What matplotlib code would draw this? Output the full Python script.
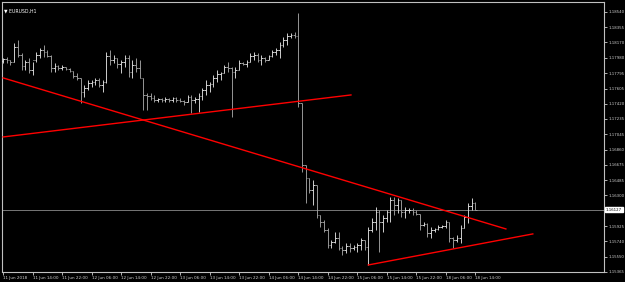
import matplotlib
matplotlib.use("Agg")
import matplotlib.pyplot as plt
from matplotlib.collections import LineCollection
from matplotlib.transforms import blended_transform_factory

# EURUSD H1 bars, 11 Jun 2018 06:00 .. 18 Jun 2018 14:00
opens = [1.17942, 1.17967, 1.17954, 1.17930, 1.18113, 1.18015, 1.17881, 1.17930, 1.17832, 1.17954,
         1.18015, 1.18077, 1.18052, 1.18003, 1.17857, 1.17881, 1.17857, 1.17869, 1.17845, 1.17820,
         1.17759, 1.17735, 1.17564, 1.17613, 1.17674, 1.17686, 1.17710, 1.17649, 1.17686, 1.18003,
         1.17954, 1.17979, 1.17906, 1.17930, 1.17979, 1.17808, 1.17893, 1.17857, 1.17735, 1.17527,
         1.17515, 1.17490, 1.17466, 1.17478, 1.17466, 1.17478, 1.17466, 1.17490, 1.17466, 1.17454,
         1.17442, 1.17503, 1.17466, 1.17478, 1.17515, 1.17588, 1.17649, 1.17661, 1.17735, 1.17784,
         1.17796, 1.17869, 1.17857, 1.17808, 1.17832, 1.17918, 1.17906, 1.17930, 1.18003, 1.18015,
         1.17954, 1.17979, 1.17954, 1.18003, 1.18052, 1.18077, 1.18138, 1.18199, 1.18247, 1.18260,
         1.18247, 1.17429, 1.16672, 1.16514, 1.16367, 1.16428, 1.16062, 1.15976, 1.15879, 1.15696,
         1.15732, 1.15781, 1.15659, 1.15635, 1.15683, 1.15659, 1.15671, 1.15696, 1.15757, 1.15671,
         1.15879, 1.15976, 1.16099, 1.15976, 1.16025, 1.16099, 1.16245, 1.16184, 1.16245, 1.16099,
         1.16123, 1.16123, 1.16099, 1.16074, 1.15940, 1.15952, 1.15842, 1.15879, 1.15891, 1.15915,
         1.15928, 1.15976, 1.15781, 1.15757, 1.15781, 1.15903, 1.16037, 1.16172, 1.16208]
highs = [1.17979, 1.17991, 1.17954, 1.18162, 1.18199, 1.18040, 1.17954, 1.17979, 1.17930, 1.18052,
         1.18101, 1.18138, 1.18077, 1.18015, 1.17918, 1.17893, 1.17893, 1.17869, 1.17857, 1.17820,
         1.17796, 1.17735, 1.17649, 1.17710, 1.17710, 1.17735, 1.17735, 1.17710, 1.18052, 1.18077,
         1.18015, 1.17979, 1.17954, 1.18015, 1.18015, 1.17954, 1.17979, 1.17954, 1.17735, 1.17552,
         1.17552, 1.17527, 1.17490, 1.17490, 1.17503, 1.17490, 1.17503, 1.17503, 1.17490, 1.17466,
         1.17527, 1.17527, 1.17503, 1.17552, 1.17613, 1.17710, 1.17686, 1.17771, 1.17832, 1.17808,
         1.17893, 1.17930, 1.17869, 1.17869, 1.17954, 1.17930, 1.17954, 1.18040, 1.18052, 1.18040,
         1.18015, 1.17991, 1.18015, 1.18077, 1.18101, 1.18174, 1.18235, 1.18284, 1.18284, 1.18296,
         1.18528, 1.17429, 1.16672, 1.16514, 1.16489, 1.16428, 1.16062, 1.16001, 1.15903, 1.15757,
         1.15854, 1.15854, 1.15683, 1.15720, 1.15720, 1.15696, 1.15720, 1.15781, 1.15757, 1.15915,
         1.16025, 1.16160, 1.16123, 1.16062, 1.16123, 1.16282, 1.16282, 1.16269, 1.16245, 1.16160,
         1.16147, 1.16147, 1.16123, 1.16074, 1.15976, 1.15964, 1.15915, 1.15903, 1.15940, 1.15940,
         1.16001, 1.15976, 1.15793, 1.15818, 1.15940, 1.16062, 1.16208, 1.16269, 1.16221]
lows = [1.17918, 1.17918, 1.17893, 1.17930, 1.17991, 1.17832, 1.17832, 1.17796, 1.17771, 1.17930,
        1.17979, 1.17991, 1.17991, 1.17808, 1.17808, 1.17832, 1.17832, 1.17832, 1.17808, 1.17735,
        1.17710, 1.17429, 1.17503, 1.17588, 1.17625, 1.17649, 1.17625, 1.17564, 1.17674, 1.17893,
        1.17918, 1.17857, 1.17796, 1.17869, 1.17747, 1.17735, 1.17808, 1.17735, 1.17344, 1.17344,
        1.17466, 1.17442, 1.17442, 1.17442, 1.17442, 1.17442, 1.17442, 1.17442, 1.17442, 1.17405,
        1.17442, 1.17307, 1.17429, 1.17320, 1.17466, 1.17527, 1.17564, 1.17625, 1.17686, 1.17710,
        1.17796, 1.17808, 1.17258, 1.17735, 1.17832, 1.17893, 1.17869, 1.17930, 1.17954, 1.17930,
        1.17893, 1.17930, 1.17954, 1.17991, 1.18015, 1.17979, 1.18113, 1.18138, 1.18223, 1.18223,
        1.17381, 1.16587, 1.16208, 1.16331, 1.16184, 1.16025, 1.15915, 1.15854, 1.15659, 1.15659,
        1.15720, 1.15635, 1.15573, 1.15598, 1.15610, 1.15635, 1.15610, 1.15635, 1.15635, 1.15451,
        1.15854, 1.15879, 1.15610, 1.15854, 1.15976, 1.15976, 1.16062, 1.16086, 1.16037, 1.16025,
        1.16086, 1.16062, 1.16062, 1.15879, 1.15928, 1.15793, 1.15781, 1.15854, 1.15879, 1.15903,
        1.15903, 1.15732, 1.15659, 1.15732, 1.15720, 1.15903, 1.15964, 1.16123, 1.16123]
closes = [1.17967, 1.17954, 1.17930, 1.18113, 1.18015, 1.17881, 1.17930, 1.17832, 1.17954, 1.18015,
          1.18077, 1.18052, 1.18003, 1.17857, 1.17881, 1.17857, 1.17869, 1.17845, 1.17820, 1.17759,
          1.17735, 1.17564, 1.17613, 1.17674, 1.17686, 1.17710, 1.17649, 1.17686, 1.18003, 1.17954,
          1.17979, 1.17906, 1.17930, 1.17979, 1.17808, 1.17893, 1.17857, 1.17735, 1.17527, 1.17515,
          1.17490, 1.17466, 1.17478, 1.17466, 1.17478, 1.17466, 1.17490, 1.17466, 1.17454, 1.17442,
          1.17503, 1.17466, 1.17478, 1.17515, 1.17588, 1.17649, 1.17661, 1.17735, 1.17784, 1.17796,
          1.17869, 1.17857, 1.17808, 1.17832, 1.17918, 1.17906, 1.17930, 1.18003, 1.18015, 1.17954,
          1.17979, 1.17954, 1.18003, 1.18052, 1.18077, 1.18138, 1.18199, 1.18247, 1.18260, 1.18247,
          1.17429, 1.16672, 1.16514, 1.16367, 1.16428, 1.16062, 1.15976, 1.15879, 1.15696, 1.15732,
          1.15781, 1.15659, 1.15635, 1.15683, 1.15659, 1.15671, 1.15696, 1.15757, 1.15671, 1.15879,
          1.15976, 1.16099, 1.15976, 1.16025, 1.16099, 1.16245, 1.16184, 1.16245, 1.16099, 1.16123,
          1.16123, 1.16099, 1.16074, 1.15940, 1.15952, 1.15842, 1.15879, 1.15891, 1.15915, 1.15928,
          1.15976, 1.15781, 1.15757, 1.15781, 1.15903, 1.16037, 1.16172, 1.16208, 1.16127]

time_labels = ["11 Jun 2018", "11 Jun 14:00", "11 Jun 22:00", "12 Jun 06:00", "12 Jun 14:00",
               "12 Jun 22:00", "13 Jun 06:00", "13 Jun 14:00", "13 Jun 22:00", "14 Jun 06:00",
               "14 Jun 14:00", "14 Jun 22:00", "15 Jun 06:00", "15 Jun 14:00", "15 Jun 22:00",
               "18 Jun 06:00", "18 Jun 14:00"]
time_label_bars = [0, 8, 16, 24, 32, 40, 48, 56, 64, 72, 80, 88, 96, 104, 112, 120, 128]

# 1.16110 sits under the current price box in the reference, so it is left out
price_ticks = [1.18540, 1.18355, 1.18170, 1.17980, 1.17795, 1.17605, 1.17420, 1.17235, 1.17045,
               1.16860, 1.16675, 1.16485, 1.16300, 1.15925, 1.15740, 1.15550, 1.15365]
current_price = 1.16127

# trend lines: (bar, price) endpoints
line_down_bars = [0, 136.3]
line_down_prices = [1.17735, 1.15891]
line_up_bars = [0, 94.3]
line_up_prices = [1.17014, 1.17527]
line_support_bars = [99, 143.6]
line_support_prices = [1.15451, 1.15830]

fig = plt.figure(figsize=(6.25, 2.82), dpi=100, facecolor="black")
ax = fig.add_axes([2 / 625, 10 / 282, 602 / 625, 270 / 282], facecolor="black")

segs, cols = [], []
for i in range(len(opens)):
    c = "#dcdcdc" if closes[i] >= opens[i] else "#a0a0a0"
    segs.append([(i, lows[i]), (i, highs[i])])
    segs.append([(i - 0.45, opens[i]), (i, opens[i])])
    segs.append([(i, closes[i]), (i + 0.45, closes[i])])
    cols += [c, c, c]
ax.add_collection(LineCollection(segs, colors=cols, linewidths=0.65, zorder=3))

ax.axhline(current_price, color="#8a8a8a", lw=0.6, zorder=2)

ax.plot(line_down_bars, line_down_prices, color="#ff0000", lw=1.0, zorder=4)
ax.plot(line_up_bars, line_up_prices, color="#ff0000", lw=1.0, zorder=4)
ax.plot(line_support_bars, line_support_prices, color="#ff0000", lw=1.0, zorder=4)

ax.set_xlim(-0.3, 162.9)
ax.set_ylim(1.15365, 1.18662)

for s in ax.spines.values():
    s.set_color("#c0c0c0")
    s.set_linewidth(0.8)

ax.yaxis.tick_right()
ax.set_yticks(price_ticks, ["%.5f" % p for p in price_ticks])
ax.tick_params(axis="y", colors="#d0d0d0", length=2.5, width=0.6, labelsize=2.8, pad=0.8)
ax.set_xticks(time_label_bars, time_labels)
ax.tick_params(axis="x", colors="#d0d0d0", length=2, width=0.6, labelsize=3.0, pad=1)
for lab in ax.get_xticklabels():
    lab.set_horizontalalignment("left")

trans = blended_transform_factory(ax.transAxes, ax.transData)
ax.text(1.003, current_price, "%.5f" % current_price, transform=trans, ha="left", va="center",
        fontsize=2.8, color="black", clip_on=False, zorder=10,
        bbox=dict(boxstyle="square,pad=0.2", fc="white", ec="white"))

ax.text(0.004, 0.975, "\u25bc EURUSD,H1", transform=ax.transAxes, ha="left", va="top",
        fontsize=3.3, color="white")

fig.savefig("out.png", dpi=100, facecolor="black")
